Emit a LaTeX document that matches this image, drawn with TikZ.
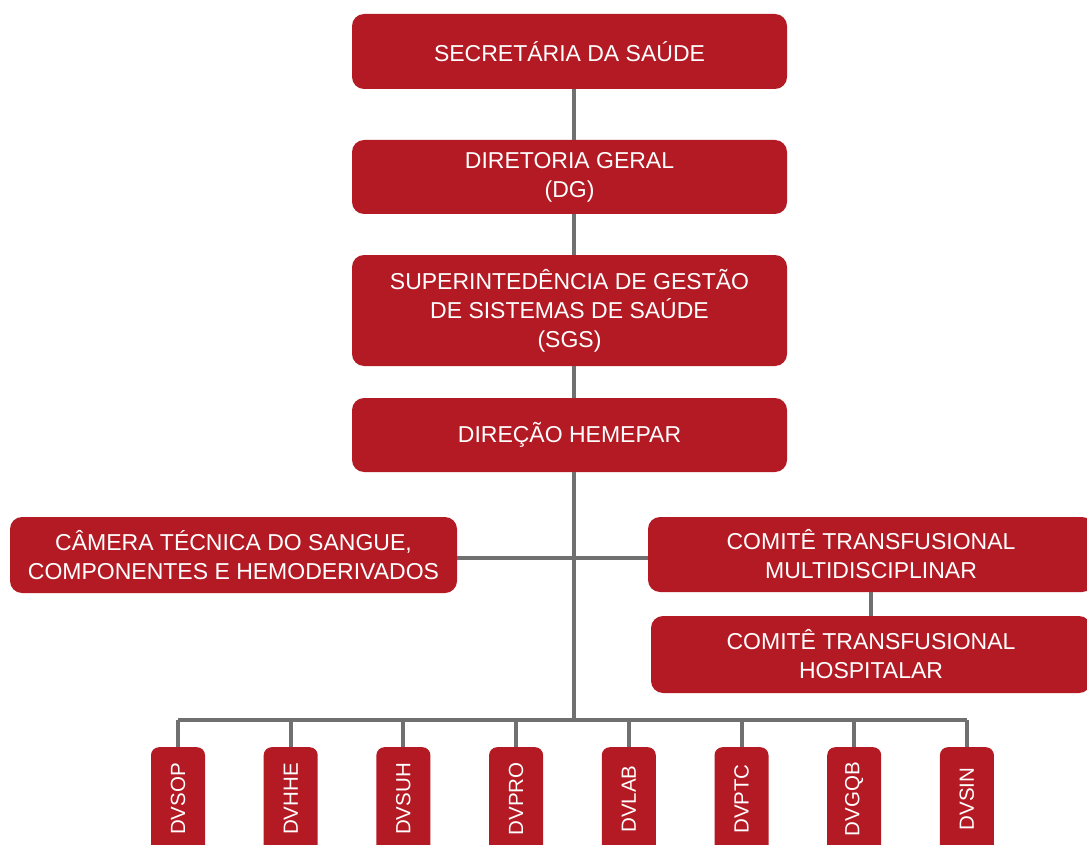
\documentclass[tikz,border=0pt]{standalone}
\usepackage{fontspec}
\setmainfont{Liberation Sans}
\definecolor{boxred}{RGB}{180,26,36}
\definecolor{linegray}{RGB}{112,112,112}
\begin{document}
\begin{tikzpicture}[x=1pt,y=-1pt,
  bigbox/.style={fill=boxred, rounded corners=12pt, text=white, align=center,
    font=\fontsize{23}{29}\selectfont, inner sep=0pt, anchor=center},
  divbox/.style={fill=boxred, rounded corners=8pt, text=white,
    minimum width=54pt, minimum height=110pt, inner sep=0pt, anchor=north,
    font=\fontsize{20.5}{24}\selectfont},
  divtext/.style={text=white, rotate=90, font=\fontsize{20.5}{24}\selectfont, inner sep=0pt},
  link/.style={draw=linegray, line width=4pt}]
\useasboundingbox (0,0) rectangle (1087,845);
\clip (0,0) rectangle (1087,845);
\fill[white] (0,0) rectangle (1087,845);
\coordinate (tx) at (574,0);

% main column
\node[bigbox, minimum width=435pt, minimum height=75pt] (sec) at (569.5,51.5) {SECRETÁRIA DA SAÚDE};
\node[bigbox, minimum width=435pt, minimum height=74pt] (dg) at (569.5,177) {DIRETORIA GERAL\\(DG)};
\node[bigbox, minimum width=435pt, minimum height=111pt] (sgs) at (569.5,310.5) {SUPERINTEDÊNCIA DE GESTÃO\\DE SISTEMAS DE SAÚDE\\(SGS)};
\node[bigbox, minimum width=435pt, minimum height=74pt] (dir) at (569.5,435) {DIREÇÃO HEMEPAR};

% side boxes
\node[bigbox, minimum width=447pt, minimum height=76pt] (cam) at (233.5,555) {CÂMERA TÉCNICA DO SANGUE,\\COMPONENTES E HEMODERIVADOS};
\node[bigbox, minimum width=446pt, minimum height=75pt] (ctm) at (871,554.5) {COMITÊ TRANSFUSIONAL\\MULTIDISCIPLINAR};
\node[bigbox, minimum width=440pt, minimum height=77pt] (cth) at (871,654.5) {COMITÊ TRANSFUSIONAL\\HOSPITALAR};

% connectors
\draw[link] (sec.south -| tx) -- (dg.north -| tx);
\draw[link] (dg.south -| tx) -- (sgs.north -| tx);
\draw[link] (sgs.south -| tx) -- (dir.north -| tx);
\coordinate (bus) at (574,720);
\draw[link] (dir.south -| tx) -- (bus);
\draw[link] (cam.east |- 0,558) -- (ctm.west |- 0,558);
\draw[link] (ctm.south) -- (cth.north);

% division boxes
\foreach \n/\x [count=\i] in {DVSOP/178,DVHHE/290.7,DVSUH/403.4,DVPRO/516.1,DVLAB/628.8,DVPTC/741.5,DVGQB/854.2,DVSIN/966.9}{
  \node[divbox] (d\i) at (\x,747) {};
  \node[divtext] (t\i) at (\x,799) {\n};
}
\draw[link] (d1.north |- bus) -- (d8.north |- bus);
\foreach \i in {1,...,8}{
  \draw[link] (d\i.north |- bus) -- (d\i.north);
}
\end{tikzpicture}
\end{document}
